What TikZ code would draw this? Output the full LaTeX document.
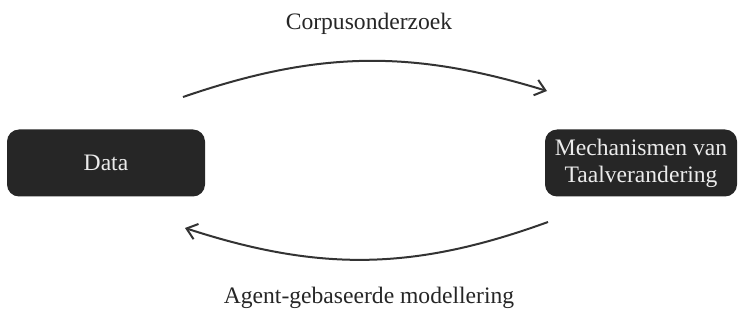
\documentclass[tikz,border=0pt]{standalone}
\usepackage{fontspec}
\setmainfont{Liberation Serif}
\usetikzlibrary{arrows.meta}

\def\boxheight{33.5pt}

\begin{document}
\begin{tikzpicture}[
    x=0.5pt, y=-0.5pt,
    font=\fontsize{11.8}{13.6}\selectfont,
    block/.style={rectangle, rounded corners=6pt, fill=black!85, text=black!8,
                  minimum height=\boxheight, inner sep=0pt, align=center},
    flow/.style={-{Straight Barb[length=5pt,width=8pt]}, line width=1pt, draw=black!80},
    annot/.style={text=black!85}
]
    \useasboundingbox (0,0) rectangle (738,320);

    % Draw the two blocks
    \node[block, minimum width=99pt] (data) at (106,163) {Data};
    \node[block, minimum width=96pt] (mech) at (641,163) {Mechanismen van\\Taalverandering};

    % End points of the arrows
    \coordinate (top-start) at (183,97);
    \coordinate (top-end) at (547,91);
    \coordinate (bot-start) at (548,222);
    \coordinate (bot-end) at (185,228);

    % Draw the arrows between the blocks
    \draw[flow] (top-start) to[bend left=18] (top-end);
    \draw[flow] (bot-start) to[bend left=19] (bot-end);

    % Annotate the arrows
    \node[annot] (corpus) at (369,24) {Corpusonderzoek};
    \node[annot] (agent) at (369,298) {Agent-gebaseerde modellering};
\end{tikzpicture}
\end{document}
